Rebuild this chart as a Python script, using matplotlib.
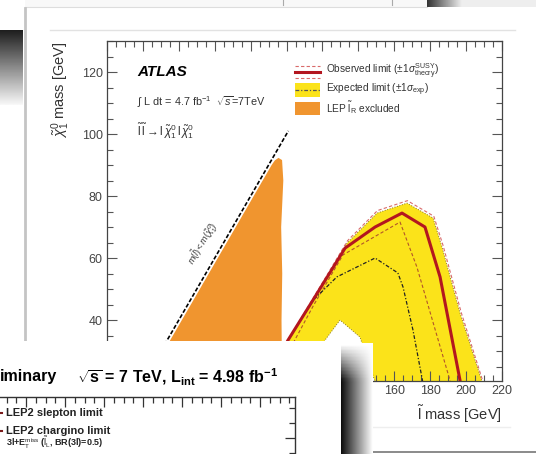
import numpy as np
import matplotlib.pyplot as plt
from matplotlib.patches import Rectangle
from matplotlib.ticker import MultipleLocator

plt.rcParams['font.family'] = ['Liberation Sans', 'DejaVu Sans']
plt.rcParams['mathtext.fontset'] = 'custom'
plt.rcParams['mathtext.rm'] = 'Liberation Sans'
plt.rcParams['mathtext.it'] = 'Liberation Sans:italic'
plt.rcParams['mathtext.bf'] = 'Liberation Sans:bold'

# --- data (slepton mass vs neutralino mass, GeV) ---
# LEP excluded region
lep_x = [21.7, 91.7, 93.5, 95.5, 97.5, 98.2, 97.0, 97.6, 97.2, 97.5, 21.7]
lep_y = [20.0, 90.0, 91.5, 92.3, 91.6, 85.0, 70.0, 55.0, 40.0, 20.0, 20.0]

# observed limit
obs_x = [88.0, 100.8, 114.8, 132.6, 149.3, 164.3, 177.1, 185.5, 196.6, 197.0]
obs_y = [20.0, 33.5, 46.5, 63.2, 70.0, 74.5, 70.0, 53.9, 20.6, 19.0]
# observed +-1 sigma theory
obs_up_x = [90.0, 102.5, 134.0, 150.6, 167.3, 182.0, 187.2, 197.2, 210.0]
obs_up_y = [20.0, 35.2, 65.6, 75.3, 78.5, 73.5, 64.0, 42.6, 19.0]
obs_dn_x = [92.0, 114.8, 131.4, 163.2, 172.6, 191.0, 191.4]
obs_dn_y = [20.0, 44.5, 61.0, 71.6, 57.1, 20.6, 19.0]

# expected limit and +-1 sigma band
exp_x = [88.0, 100.8, 115.0, 128.0, 149.3, 162.0, 164.9, 170.4, 176.2]
exp_y = [20.0, 33.5, 46.5, 53.9, 60.0, 55.2, 50.6, 36.8, 19.0]
exp_up_x = [86.0, 101.9, 133.7, 150.4, 167.1, 181.6, 186.6, 196.6, 209.5]
exp_up_y = [19.0, 34.5, 64.8, 74.5, 77.7, 72.9, 63.5, 42.3, 19.0]
exp_dn_x = [112.0, 121.4, 129.8, 140.9, 146.5, 150.0]
exp_dn_y = [19.0, 33.5, 40.0, 34.5, 24.8, 19.0]

diag = [20, 101]

W, H = 536, 454
fig = plt.figure(figsize=(W / 100, H / 100), dpi=100)

# ---------- background layers (pixel coordinates) ----------
bg = fig.add_axes([0, 0, 1, 1], zorder=0)
bg.set_xlim(0, W)
bg.set_ylim(H, 0)
bg.axis('off')
# top strip (card behind)
bg.add_patch(Rectangle((25, 0), 402, 7, color='#f8f8f8', lw=0))
bg.plot([25, 427], [7, 7], color='#dddddd', lw=0.8)
bg.plot([283, 283], [0, 5], color='#aaaaaa', lw=0.8)
bg.plot([392, 392], [0, 5], color='#aaaaaa', lw=0.8)
grad_h = np.linspace(0.2, 0.93, 64)[None, :]
bg.imshow(grad_h, extent=[427, 462, 7, 0], cmap='gray', vmin=0, vmax=1, aspect='auto')
bg.add_patch(Rectangle((462, 0), 74, 7, color='#eeeeee', lw=0))
# dark shadow at the left
grad_v = np.linspace(0.12, 0.97, 64)[:, None]
bg.imshow(grad_v, extent=[0, 23, 105, 30], cmap='gray', vmin=0, vmax=1, aspect='auto')
# card edge and header line
bg.plot([25, 25], [8, H], color='#c4c4c4', lw=2)
bg.plot([50, 515], [30, 30], color='#e2e2e2', lw=1)
bg.plot([370, 510], [427, 427], color='#eeeeee', lw=1)
bg.plot([341, W], [452, 452], color='#777777', lw=1.2)

# ---------- main ATLAS plot ----------
ax = fig.add_axes([107 / W, 1 - 380.5 / H, (502 - 107) / W, (380.5 - 41) / H], zorder=2)
ax.fill(exp_up_x + exp_dn_x[::-1], exp_up_y + exp_dn_y[::-1], color='#fbe31a', lw=0)
ax.plot(exp_up_x, exp_up_y, color='#8a7a20', lw=0.7, ls=':')
ax.plot(exp_dn_x, exp_dn_y, color='#8a7a20', lw=0.7, ls=':')
ax.fill(lep_x, lep_y, color='#f0952f', lw=0)
ax.plot(diag, diag, color='black', lw=1.2, ls=(0, (2.5, 1.2)))
ax.plot(obs_up_x, obs_up_y, color='#d96a6a', lw=0.8, ls=(0, (3, 2)))
ax.plot(obs_dn_x, obs_dn_y, color='#b2552a', lw=0.8, ls=(0, (3, 2)))
ax.plot(exp_x, exp_y, color='#222222', lw=0.9, ls=(0, (3, 1.5, 1, 1.5)))
ax.plot(obs_x, obs_y, color='#b3161f', lw=2.2)

ax.set_xlim(0, 220)
ax.set_ylim(20.5, 130)
ax.xaxis.set_major_locator(MultipleLocator(20))
ax.xaxis.set_minor_locator(MultipleLocator(5))
ax.yaxis.set_major_locator(MultipleLocator(20))
ax.yaxis.set_minor_locator(MultipleLocator(5))
ax.tick_params(which='both', direction='in', top=True, right=True, colors='#555555',
               labelcolor='#444444', labelsize=9, width=0.8)
ax.tick_params(which='major', length=7, pad=3)
ax.tick_params(which='minor', length=4)
for s in ax.spines.values():
    s.set_color('#444444')
    s.set_linewidth(0.9)
ax.set_xlabel(r'$\tilde{\mathrm{l}}$ mass [GeV]', loc='right', fontsize=10.5, color='#333333', labelpad=5)
ax.set_ylabel(r'$\tilde{\chi}^0_1$ mass [GeV]', loc='top', fontsize=10.5, color='#333333', labelpad=7)
fig.canvas.draw()
# x labels left of 140 lie under the overlapping panel
for t in ax.get_xticklabels():
    if t.get_position()[0] < 140:
        t.set_visible(False)

ax.text(0.076, 0.91, 'ATLAS', transform=ax.transAxes, fontsize=11, fontweight='bold',
        fontstyle='italic', va='center')
ax.text(0.076, 0.82, r'$\int$ L dt = 4.7 fb$^{-1}$  $\sqrt{s}$=7TeV', transform=ax.transAxes,
        fontsize=7.8, va='center', color='#333333')
ax.text(0.076, 0.735, r'$\tilde{\mathrm{l}}\,\tilde{\mathrm{l}}\rightarrow \mathrm{l}\,\tilde{\chi}^0_1\,\mathrm{l}\,\tilde{\chi}^0_1$',
        transform=ax.transAxes, fontsize=8.5, va='center', color='#333333')
ax.text(53.5, 64.8, r'$m(\tilde{l}) < m(\tilde{\chi}^0_1)$', fontsize=6.5, rotation=59.5,
        ha='center', va='center', rotation_mode='anchor', color='#333333')

# legend swatches (axes fraction)
lx0, lx1 = (295 - 107) / 395, (320 - 107) / 395
def fy(py):
    return (380.5 - py) / 339.5
ax.plot([lx0, lx1], [fy(66), fy(66)], transform=ax.transAxes, color='#d96a6a', lw=0.8, ls=(0, (3, 2)))
ax.plot([lx0, lx1], [fy(71.5), fy(71.5)], transform=ax.transAxes, color='#b3161f', lw=2.2)
ax.plot([lx0, lx1], [fy(78), fy(78)], transform=ax.transAxes, color='#d96a6a', lw=0.8, ls=(0, (3, 2)))
ax.add_patch(Rectangle((lx0, fy(97)), lx1 - lx0, fy(83) - fy(97), transform=ax.transAxes,
                       color='#fbe31a', lw=0))
ax.plot([lx0, lx1], [fy(90), fy(90)], transform=ax.transAxes, color='#555555', lw=0.9,
        ls=(0, (3, 1.5, 1, 1.5)))
ax.add_patch(Rectangle((lx0, fy(115)), lx1 - lx0, fy(102) - fy(115), transform=ax.transAxes,
                       color='#f0952f', lw=0))
tx = (326 - 107) / 395
ax.text(tx, fy(71.5), r'Observed limit ($\pm1\sigma^{\mathrm{SUSY}}_{\mathrm{theory}}$)', transform=ax.transAxes,
        fontsize=7.3, va='center', color='#333333')
ax.text(tx, fy(89.5), r'Expected limit ($\pm1\sigma_{\mathrm{exp}}$)', transform=ax.transAxes,
        fontsize=7.3, va='center', color='#333333')
ax.text(tx, fy(107.5), r'LEP $\tilde{\mathrm{l}}_{\mathrm{R}}$ excluded', transform=ax.transAxes,
        fontsize=7.3, va='center', color='#333333')

# ---------- overlapping panel at the bottom left ----------
ov = fig.add_axes([0, 0, 1, 1], zorder=5)
ov.set_xlim(0, W)
ov.set_ylim(H, 0)
ov.axis('off')
ov.patch.set_alpha(0)
ov.add_patch(Rectangle((0, 341), 341, H - 341, color='white', lw=0))
sh = np.linspace(0.05, 1.0, 64)[None, :] * np.ones((32, 1))
sh = 1 - (1 - sh) * np.clip(np.linspace(0, 3, 32), 0, 1)[:, None]
ov.imshow(sh, extent=[341, 373, H, 343], cmap='gray', vmin=0, vmax=1, aspect='auto')
ov.text(0, 377, 'iminary', fontsize=11.5, fontweight='bold', va='center', ha='left')
ov.text(77, 377, r'$\sqrt{\mathbf{s}}$ = 7 TeV, L$_{\mathbf{int}}$ = 4.98 fb$^{\mathbf{-1}}$', fontsize=11.5,
        fontweight='bold', va='center', ha='left')
ov.text(6, 413, 'LEP2 slepton limit', fontsize=8, fontweight='bold', va='center', color='#222222')
ov.text(6, 431, 'LEP2 chargino limit', fontsize=8, fontweight='bold', va='center', color='#222222')
ov.text(6, 443, r'3l+E$_{\mathrm{T}}^{\mathrm{miss}}$ ($\tilde{\mathrm{l}}_{\mathrm{L}}$, BR(3l)=0.5)', fontsize=6.5,
        fontweight='bold', va='center', color='#222222')
ov.plot([-5, 2], [413, 413], color='#7a1a1a', lw=1.5)
ov.plot([-5, 2], [431, 431], color='#7a1a1a', lw=1.5)

mini = fig.add_axes([-100 / W, 1 - 520 / H, 395 / W, (520 - 397) / H], zorder=6)
mini.patch.set_alpha(0)
mini.set_xlim(-243, 152)
mini.set_ylim(-82, 41)
mini.xaxis.set_major_locator(MultipleLocator(39))
mini.xaxis.set_minor_locator(MultipleLocator(9.75))
mini.yaxis.set_major_locator(MultipleLocator(60))
mini.yaxis.set_minor_locator(MultipleLocator(15))
mini.tick_params(which='both', direction='in', top=True, right=True, bottom=False, left=False,
                 labelbottom=False, labelleft=False, width=0.9, color='#333333')
mini.tick_params(which='major', length=7)
mini.tick_params(which='minor', length=4)
for s in mini.spines.values():
    s.set_color('#333333')
    s.set_linewidth(1)

fig.savefig('out.png', dpi=100)
